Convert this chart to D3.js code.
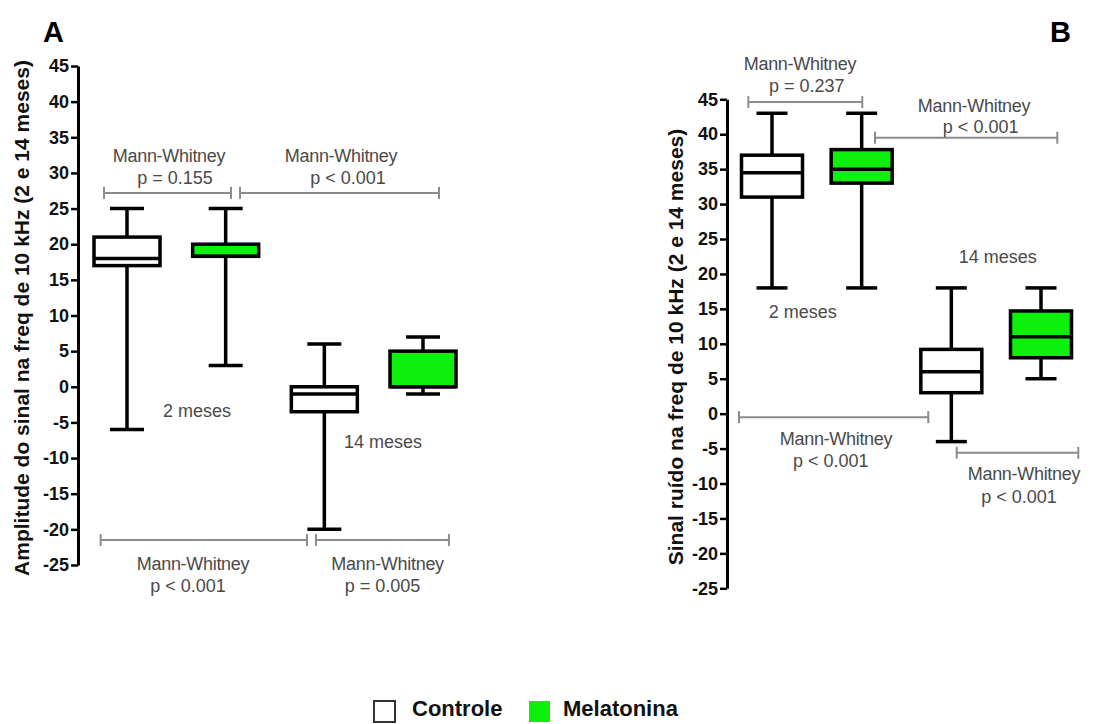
<!DOCTYPE html>
<html><head><meta charset="utf-8">
<script src="https://cdn.jsdelivr.net/npm/d3@7"></script>
<style>
html,body{margin:0;padding:0;background:#fff;}
svg{display:block;font-family:"Liberation Sans",Arial,sans-serif;}
</style></head>
<body><svg id="c" width="1120" height="724"></svg>
<script>
// ---------- data ----------
const categories = ["Controle 2 meses","Melatonina 2 meses","Controle 14 meses","Melatonina 14 meses"];
const groupOf = ["Controle","Melatonina","Controle","Melatonina"];
const legendLabels = ["Controle","Melatonina"];
const yTicks = [45,40,35,30,25,20,15,10,5,0,-5,-10,-15,-20,-25];

// Panel A: Amplitude do sinal
const ampMin = [-6, 3, -20, -1];
const ampQ1  = [17, 18.3, -3.5, 0];
const ampMed = [18, 18.3, -1, 0];
const ampQ3  = [21, 20, 0, 5];
const ampMax = [25, 25, 6, 7];

// Panel B: Sinal ruído
const snrMin = [18, 18, -4, 5];
const snrQ1  = [31, 33, 3, 8];
const snrMed = [34.5, 35, 6, 11];
const snrQ3  = [37, 37.8, 9.2, 14.7];
const snrMax = [43, 43, 18, 18];

// comparison brackets: [from index, to index, y value, label1 x idx, label1 y, label2 x idx, label2 y, p text]
const ampTests = [
  [-0.233, 1.054, 27.2, 0.426, 31.6, 0.486, 28.5, "p = 0.155"],
  [1.145, 3.162, 27.2, 2.169, 31.6, 2.24, 28.5, "p < 0.001"],
  [-0.267, 1.824, -21.5, 0.669, -25.65, 0.618, -28.74, "p < 0.001"],
  [1.915, 3.263, -21.5, 2.641, -25.65, 2.589, -28.74, "p = 0.005"]
];
const snrTests = [
  [-0.264, 1.007, 44.6, 0.312, 49.24, 0.387, 46.1, "p = 0.237"],
  [1.149, 3.182, 39.5, 2.253, 43.23, 2.327, 40.16, "p < 0.001"],
  [-0.368, 1.743, -0.5, 0.714, -4.45, 0.655, -7.65, "p < 0.001"],
  [2.06, 3.416, -5.6, 2.81, -9.56, 2.755, -12.78, "p < 0.001"]
];
const ampAges = [["2 meses", 0.709, -4.18], ["14 meses", 2.594, -8.6]];
const snrAges = [["2 meses", 0.342, 13.7], ["14 meses", 2.517, 21.56]];

const colors = {Controle:"#ffffff", Melatonina:"#0cf00c"};

// ---------- drawing ----------
const svg = d3.select("#c");

function panel(cfg){
  const g = svg.append("g");
  const y = d3.scaleLinear().domain([-25,45]).range([cfg.bottom, cfg.top]);
  const xi = d3.scaleLinear().domain([0,3]).range(cfg.xRange);
  const x = d3.scalePoint().domain(categories).range(cfg.xRange);

  // axis
  const ax = g.append("g").attr("transform",`translate(${cfg.axisX},0)`)
    .call(d3.axisLeft(y).tickValues(yTicks).tickFormat(v=>String(v)).tickSize(7).tickSizeOuter(0).tickPadding(2));
  ax.select(".domain").attr("stroke","#000").attr("stroke-width",3);
  ax.selectAll(".tick line").attr("stroke","#000").attr("stroke-width",2.5);
  ax.selectAll(".tick text").attr("fill","#111").attr("font-size",18).attr("font-weight","bold")
    .attr("font-family","'Liberation Sans',Arial,sans-serif");

  // y title
  g.append("text").attr("transform",`translate(${cfg.titleX},${cfg.titleY}) rotate(-90)`)
    .attr("text-anchor","middle").attr("font-size",21).attr("font-weight","bold").attr("fill","#111")
    .text(cfg.title);

  // panel letter
  g.append("text").attr("x",cfg.letterX).attr("y",42).attr("font-size",29).attr("font-weight","bold")
    .attr("fill","#000").text(cfg.letter);

  // brackets
  const grey = "#8c8c8c";
  cfg.tests.forEach(t=>{
    const x1 = xi(t[0]), x2 = xi(t[1]), yy = y(t[2]);
    g.append("line").attr("x1",x1).attr("x2",x2).attr("y1",yy).attr("y2",yy).attr("stroke",grey).attr("stroke-width",2);
    [x1,x2].forEach(xx=>g.append("line").attr("x1",xx).attr("x2",xx).attr("y1",yy-6).attr("y2",yy+6).attr("stroke",grey).attr("stroke-width",2));
    g.append("text").attr("x",xi(t[3])).attr("y",y(t[4])).attr("text-anchor","middle").attr("font-size",18)
      .attr("fill","#4a4a4a").attr("letter-spacing",-0.3).text("Mann-Whitney");
    g.append("text").attr("x",xi(t[5])).attr("y",y(t[6])).attr("text-anchor","middle").attr("font-size",18)
      .attr("fill","#4a4a4a").text(t[7]);
  });
  cfg.ages.forEach(a=>{
    g.append("text").attr("x",xi(a[1])).attr("y",y(a[2])).attr("text-anchor","middle").attr("font-size",18)
      .attr("fill","#4a4a4a").text(a[0]);
  });

  // boxes
  const d = categories.map((c,i)=>({c, grp:groupOf[i], min:cfg.min[i], q1:cfg.q1[i], med:cfg.med[i], q3:cfg.q3[i], max:cfg.max[i]}));
  const bw = cfg.boxW, cw = cfg.capW, sw = 3.5;
  const bx = g.selectAll(".bx").data(d).join("g");
  bx.append("line").attr("x1",e=>x(e.c)).attr("x2",e=>x(e.c)).attr("y1",e=>y(e.max)).attr("y2",e=>y(e.min))
    .attr("stroke","#000").attr("stroke-width",sw);
  bx.append("line").attr("x1",e=>x(e.c)-cw/2).attr("x2",e=>x(e.c)+cw/2).attr("y1",e=>y(e.max)).attr("y2",e=>y(e.max))
    .attr("stroke","#000").attr("stroke-width",sw);
  bx.append("line").attr("x1",e=>x(e.c)-cw/2).attr("x2",e=>x(e.c)+cw/2).attr("y1",e=>y(e.min)).attr("y2",e=>y(e.min))
    .attr("stroke","#000").attr("stroke-width",sw);
  bx.append("rect").attr("x",e=>x(e.c)-bw/2).attr("width",bw).attr("y",e=>y(e.q3)).attr("height",e=>y(e.q1)-y(e.q3))
    .attr("fill",e=>colors[e.grp]).attr("stroke","#000").attr("stroke-width",sw);
  bx.append("line").attr("x1",e=>x(e.c)-bw/2).attr("x2",e=>x(e.c)+bw/2).attr("y1",e=>y(e.med)).attr("y2",e=>y(e.med))
    .attr("stroke","#000").attr("stroke-width",sw);
}

panel({letter:"A", letterX:43, axisX:78, top:66, bottom:565, xRange:[127,423], boxW:66, capW:34,
  title:"Amplitude do sinal na freq de 10 kHz (2 e 14 meses)", titleX:29, titleY:318,
  min:ampMin,q1:ampQ1,med:ampMed,q3:ampQ3,max:ampMax, tests:ampTests, ages:ampAges});
panel({letter:"B", letterX:1050, axisX:727, top:99.3, bottom:588.3, xRange:[772,1041], boxW:61, capW:31,
  title:"Sinal ruído na freq de 10 kHz (2 e 14 meses)", titleX:683, titleY:347,
  min:snrMin,q1:snrQ1,med:snrMed,q3:snrQ3,max:snrMax, tests:snrTests, ages:snrAges});

// legend
const leg = svg.append("g");
const legX = [374, 529], legTX = [412, 563];
legendLabels.forEach((l,i)=>{
  leg.append("rect").attr("x",legX[i]).attr("y",701).attr("width",21).attr("height",21)
    .attr("fill",colors[l]).attr("stroke", i===0?"#333":"none").attr("stroke-width",2);
  leg.append("text").attr("x",legTX[i]).attr("y",716).attr("font-size",22).attr("font-weight","bold")
    .attr("fill","#111").text(l);
});
</script></body></html>
